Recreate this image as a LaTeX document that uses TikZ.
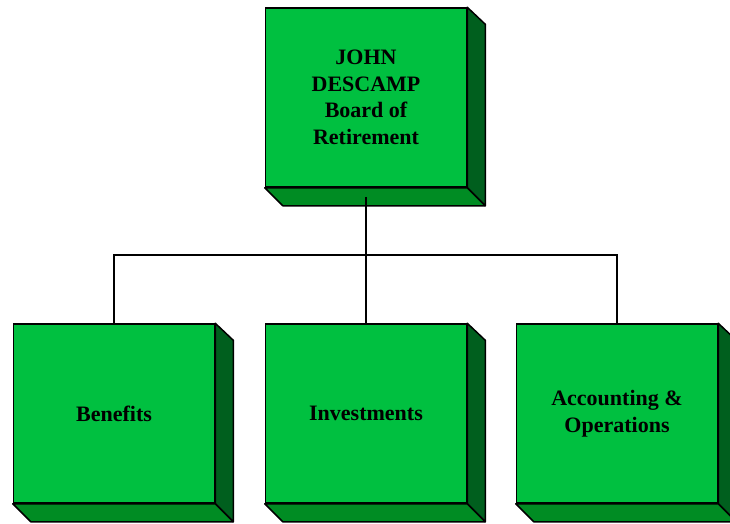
\documentclass[tikz,border=0pt]{standalone}
\usepackage{fontspec}
\setmainfont{Liberation Serif}
\usepackage{xcolor}
\usepackage{tikz}
\usetikzlibrary{calc}

\definecolor{facegreen}{RGB}{0,192,64}
\definecolor{bottomgreen}{RGB}{0,140,35}
\definecolor{sidegreen}{RGB}{0,95,30}

\tikzset{
  unit/.style = {draw, line width = 1.5pt, fill = facegreen,
    minimum width = 201pt, minimum height = 179pt, inner sep = 0pt,
    align = center, font = \fontsize{22}{26.5}\selectfont\bfseries},
  face/.style = {draw, line width = 1.5pt, line join = round},
  wire/.style = {draw, line width = 1.8pt}
}

% side and bottom of a box
\newcommand{\slab}[1]{%
  \filldraw[face, fill = sidegreen] (#1.north east) -- ++(18, 17)
    -- ($(#1.south east) + (18, 18)$) -- (#1.south east) -- cycle;
  \filldraw[face, fill = bottomgreen] (#1.south west) -- ++(18, 18)
    -- ($(#1.south east) + (18, 18)$) -- (#1.south east) -- cycle;
}

\begin{document}
\begin{tikzpicture}[x = 1pt, y = -1pt]
    \useasboundingbox (0, 0) rectangle (730, 524);
    {
      \node[unit] (board) at (366, 97.5) {JOHN\\DESCAMP\\Board of\\Retirement};
      \slab{board}
    }
    {
      \node[unit] (benefits) at (114, 413.5) {Benefits};
      \slab{benefits}
      \node[unit] (investments) at (366, 413.5) {Investments};
      \slab{investments}
      \node[unit] (accounting) at (617, 413.5) {Accounting \&\\Operations};
      \slab{accounting}
    }
    \coordinate (bus) at (366, 255);
    \draw[wire] ([yshift = -9pt]board.south) -- (bus);
    \draw[wire] (benefits.north) |- (bus) -| (accounting.north);
    \draw[wire] (bus) -- (investments.north);
  \end{tikzpicture}
\end{document}
